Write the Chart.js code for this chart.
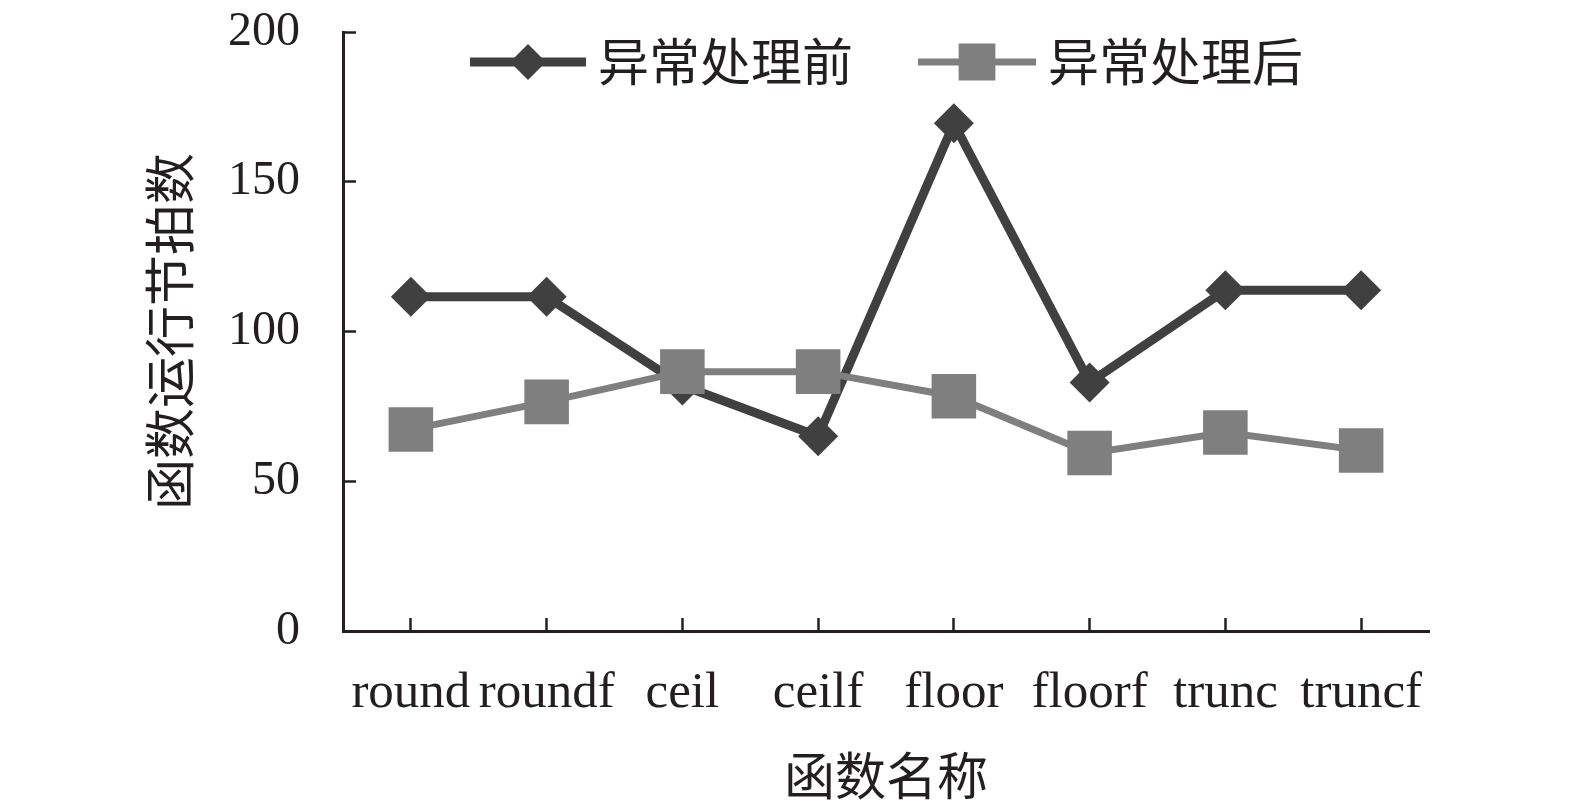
<!DOCTYPE html>
<html>
<head>
<meta charset="utf-8">
<script src="https://cdn.jsdelivr.net/npm/chart.js@4.4.0/dist/chart.umd.min.js"></script>
<style>
html, body { margin: 0; padding: 0; background: #fff; }
</style>
</head>
<body>
<canvas id="canvas" width="1575" height="809"></canvas>
<script>
var funcNames = ['round', 'roundf', 'ceil', 'ceilf', 'floor', 'floorf', 'trunc', 'truncf'];
var beforeCycles = [111.6, 111.6, 82, 65, 169.5, 83, 113.8, 113.8];
var afterCycles = [67.3, 76.5, 86.6, 86.6, 78.4, 59.4, 66.3, 60.3];
var yTicks = [0, 50, 100, 150, 200];
var seriesNames = ['异常处理前', '异常处理后'];

var textColor = '#231f20';
var darkColor = '#404040';
var greyColor = '#7f7f7f';

// legend with line through the marker, drawn by hand
var lineLegend = {
    id: 'lineLegend',
    afterDraw: function (c) {
        var ctx = c.ctx;
        var items = [
            {x: 470, w: 116, color: darkColor, lw: 9, style: 'rectRot', r: 18, text: seriesNames[0]},
            {x: 918, w: 118, color: greyColor, lw: 7, style: 'rect', r: 26, text: seriesNames[1]}
        ];
        var y = 62;
        ctx.save();
        items.forEach(function (it) {
            ctx.strokeStyle = it.color;
            ctx.lineWidth = it.lw;
            ctx.beginPath();
            ctx.moveTo(it.x, y);
            ctx.lineTo(it.x + it.w, y);
            ctx.stroke();
            ctx.fillStyle = it.color;
            Chart.helpers.drawPoint(ctx, {pointStyle: it.style, radius: it.r, rotation: 0, borderWidth: 0}, it.x + it.w / 2, y);
            ctx.fillStyle = textColor;
            ctx.font = '51px "Noto Sans CJK SC"';
            ctx.textBaseline = 'middle';
            ctx.textAlign = 'left';
            ctx.fillText(it.text, it.x + it.w + 12, y);
        });
        ctx.restore();
    }
};

var chart = new Chart(document.getElementById('canvas').getContext('2d'), {
    type: 'line',
    data: {
        labels: funcNames,
        datasets: [{
            label: seriesNames[0],
            data: beforeCycles,
            borderColor: darkColor,
            backgroundColor: darkColor,
            borderWidth: 9,
            pointStyle: 'rectRot',
            pointRadius: 20,
            pointBorderWidth: 0,
            pointBackgroundColor: darkColor,
            tension: 0,
            order: 1
        }, {
            label: seriesNames[1],
            data: afterCycles,
            borderColor: greyColor,
            backgroundColor: greyColor,
            borderWidth: 7,
            pointStyle: 'rect',
            pointRadius: 31.5,
            pointBorderWidth: 0,
            pointBackgroundColor: greyColor,
            tension: 0,
            order: 0
        }]
    },
    options: {
        responsive: false,
        animation: false,
        layout: {padding: {top: 32, right: 146, bottom: 0, left: 0}},
        plugins: {
            legend: {display: false},
            tooltip: {enabled: false}
        },
        scales: {
            x: {
                offset: true,
                grid: {display: true, drawOnChartArea: false, drawTicks: true, tickLength: -13, tickWidth: 2.5, tickColor: textColor, offset: false},
                border: {display: true, color: textColor, width: 3},
                ticks: {color: textColor, font: {family: 'Liberation Serif', size: 51}, padding: 45, maxRotation: 0, autoSkip: false},
                title: {display: true, text: '函数名称', color: textColor, font: {family: 'Noto Sans CJK SC', size: 51}, padding: {top: 0, bottom: 3}},
                afterFit: function (s) { s.height = 178; }
            },
            y: {
                min: yTicks[0],
                max: yTicks[yTicks.length - 1],
                afterBuildTicks: function (s) { s.ticks = yTicks.map(function (v) { return {value: v}; }); },
                grid: {display: true, drawOnChartArea: false, drawTicks: true, tickLength: -13, tickWidth: 2.5, tickColor: textColor},
                border: {display: true, color: textColor, width: 3},
                ticks: {color: textColor, font: {family: 'Liberation Serif', size: 48}, padding: 56},
                title: {display: true, text: '函数运行节拍数', color: textColor, font: {family: 'Noto Sans CJK SC', size: 51}, padding: {top: 139, bottom: 0}},
                afterFit: function (s) { s.width = 343; s.paddingTop = 0; s.paddingBottom = 0; }
            }
        }
    },
    plugins: [lineLegend]
});
</script>
</body>
</html>
